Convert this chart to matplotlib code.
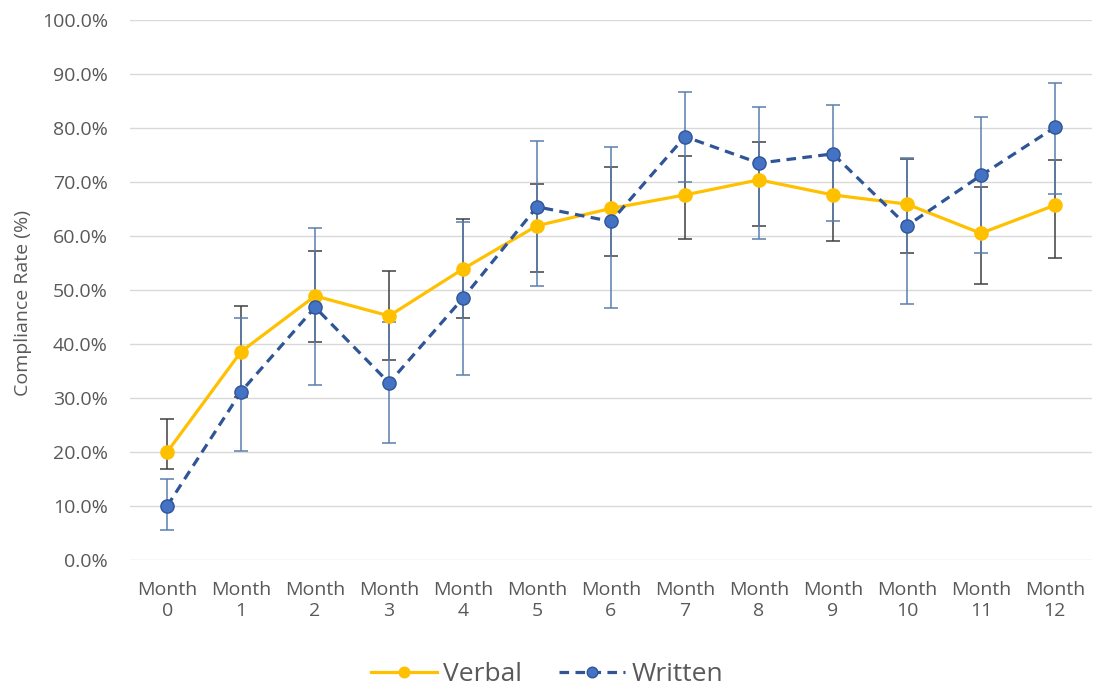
import matplotlib
matplotlib.use("Agg")
import matplotlib.pyplot as plt
import numpy as np
from matplotlib.ticker import FuncFormatter

plt.rcParams['font.family'] = ['Open Sans', 'DejaVu Sans']

months = ["Month\n0", "Month\n1", "Month\n2", "Month\n3", "Month\n4", "Month\n5", "Month\n6",
          "Month\n7", "Month\n8", "Month\n9", "Month\n10", "Month\n11", "Month\n12"]

verbal = [20.0, 38.6, 48.9, 45.2, 53.9, 61.9, 65.1, 67.6, 70.4, 67.6, 65.9, 60.5, 65.7]
verbal_low = [16.9, 30.2, 40.4, 37.1, 44.9, 53.3, 56.3, 59.5, 61.9, 59.1, 56.8, 51.1, 56.0]
verbal_high = [26.1, 47.0, 57.2, 53.6, 63.1, 69.6, 72.8, 74.9, 77.4, 75.0, 74.2, 69.1, 74.0]

written = [10.0, 31.2, 46.8, 32.8, 48.5, 65.4, 62.7, 78.4, 73.5, 75.2, 61.9, 71.2, 80.1]
written_low = [5.5, 20.1, 32.4, 21.6, 34.3, 50.8, 46.6, 70.0, 59.5, 62.7, 47.4, 56.8, 67.7]
written_high = [15.0, 44.9, 61.5, 44.0, 62.5, 77.5, 76.4, 86.7, 83.8, 84.3, 74.5, 82.1, 88.3]

yticks = [0, 10, 20, 30, 40, 50, 60, 70, 80, 90, 100]

fig = plt.figure(figsize=(10.94, 6.88), dpi=100)
ax = fig.add_axes([0.119, 0.186, 0.879, 0.785])

x = np.arange(len(months))
v = np.array(verbal); w = np.array(written)
v_err = [v - np.array(verbal_low), np.array(verbal_high) - v]
w_err = [w - np.array(written_low), np.array(written_high) - w]

gold = '#FFC000'
blue_line = '#2F5597'
blue_mark = '#4472C4'

ax.errorbar(x, v, yerr=v_err, fmt='none', ecolor='#404040', elinewidth=1.1,
            capsize=4.8, capthick=1.1, zorder=2)
ax.errorbar(x, w, yerr=w_err, fmt='none', ecolor='#5A7EAD', elinewidth=1.1,
            capsize=4.8, capthick=1.1, zorder=2.5)

ax.plot(x, v, color=gold, lw=2.3, marker='o', markersize=9.5,
        markerfacecolor=gold, markeredgecolor=gold, label='Verbal', zorder=3)
ax.plot(x, w, color=blue_line, lw=2.3, ls=(0, (3, 2)), marker='o', markersize=9.5,
        markerfacecolor=blue_mark, markeredgecolor=blue_line, markeredgewidth=1.0,
        label='Written', zorder=4)

ax.set_xlim(-0.5, len(months) - 0.5)
ax.set_ylim(0, 100)
ax.set_yticks(yticks)
ax.yaxis.set_major_formatter(FuncFormatter(lambda val, pos: f"{val:.1f}%"))
ax.set_xticks(x)
ax.set_xticklabels(months)
ax.grid(axis='y', color='#D9D9D9', lw=1.0)
ax.set_axisbelow(True)
for s in ax.spines.values():
    s.set_visible(False)
ax.tick_params(axis='both', length=0, labelsize=14, labelcolor='#595959')
ax.tick_params(axis='y', pad=16)
ax.tick_params(axis='x', pad=15)
ax.set_ylabel('Compliance Rate (%)', fontsize=14, color='#595959')
ax.yaxis.set_label_coords(-0.102, 0.475)

leg = fig.legend(loc='center', bbox_to_anchor=(0.5, 0.02), ncol=2, frameon=False,
                 fontsize=19, handlelength=2.5, columnspacing=1.4, handletextpad=0.25,
                 markerscale=0.8)
for t in leg.get_texts():
    t.set_color('#595959')

fig.savefig('out.png', dpi=100)
